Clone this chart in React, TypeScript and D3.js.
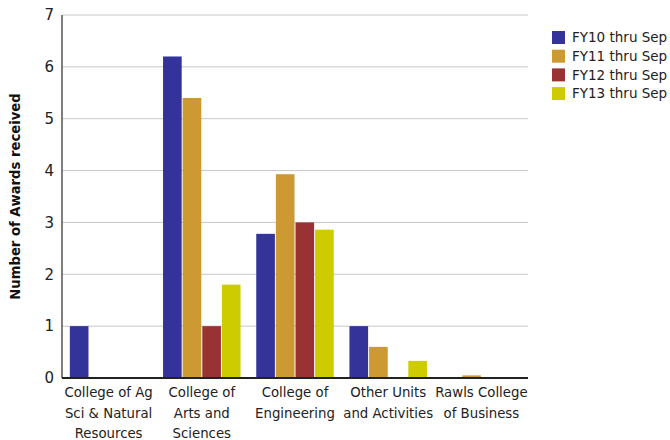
import { useMemo } from 'react';
import { scaleBand, scaleLinear } from 'd3';

const categories = [
  ['College of Ag', 'Sci & Natural', 'Resources'],
  ['College of', 'Arts and', 'Sciences'],
  ['College of', 'Engineering'],
  ['Other Units', 'and Activities'],
  ['Rawls College', 'of Business'],
];
const seriesNames = ['FY10 thru Sep', 'FY11 thru Sep', 'FY12 thru Sep', 'FY13 thru Sep'];
const seriesColors = ['#333399', '#cc9933', '#993333', '#cccc00'];
const fy10 = [1, 6.2, 2.78, 1, 0];
const fy11 = [0, 5.4, 3.93, 0.6, 0.05];
const fy12 = [0, 1, 3.0, 0, 0];
const fy13 = [0, 1.8, 2.86, 0.33, 0];
const yTicks = [0, 1, 2, 3, 4, 5, 6, 7];

const FONT = '"DejaVu Sans", Verdana, sans-serif';

export default function App() {
  const width = 670;
  const height = 440;
  const margin = { top: 15, right: 142, bottom: 62, left: 62 };
  const innerW = width - margin.left - margin.right;
  const innerH = height - margin.top - margin.bottom;

  const series = [fy10, fy11, fy12, fy13];

  const x = useMemo(() => scaleBand<number>().domain(categories.map((_, i) => i)).range([0, innerW]).padding(0), [innerW]);
  const xInner = useMemo(
    () => scaleBand<number>().domain(series.map((_, i) => i)).range([0, x.bandwidth()]).paddingOuter(0.4).paddingInner(0.05),
    [x]
  );
  const y = useMemo(() => scaleLinear().domain([0, 7]).range([innerH, 0]), [innerH]);

  return (
    <svg width={width} height={height} style={{ position: 'absolute', left: 0, top: 0, fontFamily: FONT }}>
      <g transform={`translate(${margin.left},${margin.top})`}>
        {yTicks.map(t => (
          <g key={t}>
            {t > 0 && <line x1={0} x2={innerW} y1={y(t)} y2={y(t)} stroke="#c8c8c8" strokeWidth={1} />}
            <text x={-8} y={y(t)} dy="0.35em" textAnchor="end" fontSize={15} fill="#222">{t}</text>
          </g>
        ))}
        {categories.map((_, ci) =>
          series.map((vals, si) =>
            vals[ci] > 0 ? (
              <rect
                key={`${ci}-${si}`}
                x={(x(ci) ?? 0) + (xInner(si) ?? 0)}
                y={y(vals[ci])}
                width={xInner.bandwidth()}
                height={y(0) - y(vals[ci])}
                fill={seriesColors[si]}
              />
            ) : null
          )
        )}
        <line x1={0} x2={0} y1={0} y2={innerH} stroke="#555" strokeWidth={1.5} />
        <line x1={0} x2={innerW} y1={innerH} y2={innerH} stroke="#222" strokeWidth={2} />
        {categories.map((lines, ci) => (
          <text key={ci} textAnchor="middle" fontSize={13.3} fill="#222">
            {lines.map((l, li) => (
              <tspan key={li} x={(x(ci) ?? 0) + x.bandwidth() / 2} y={innerH + 19 + li * 20.5}>{l}</tspan>
            ))}
          </text>
        ))}
      </g>
      <text
        transform={`translate(20,${margin.top + innerH / 2}) rotate(-90)`}
        textAnchor="middle"
        fontSize={13.2}
        fontWeight="bold"
        fill="#111"
      >
        Number of Awards received
      </text>
      <g transform="translate(552,31)">
        {seriesNames.map((n, i) => (
          <g key={n} transform={`translate(0,${i * 18.7})`}>
            <rect x={0} y={0} width={13} height={13} fill={seriesColors[i]} />
            <text x={20} y={6.5} dy="0.35em" fontSize={13.5} fill="#222">{n}</text>
          </g>
        ))}
      </g>
    </svg>
  );
}
